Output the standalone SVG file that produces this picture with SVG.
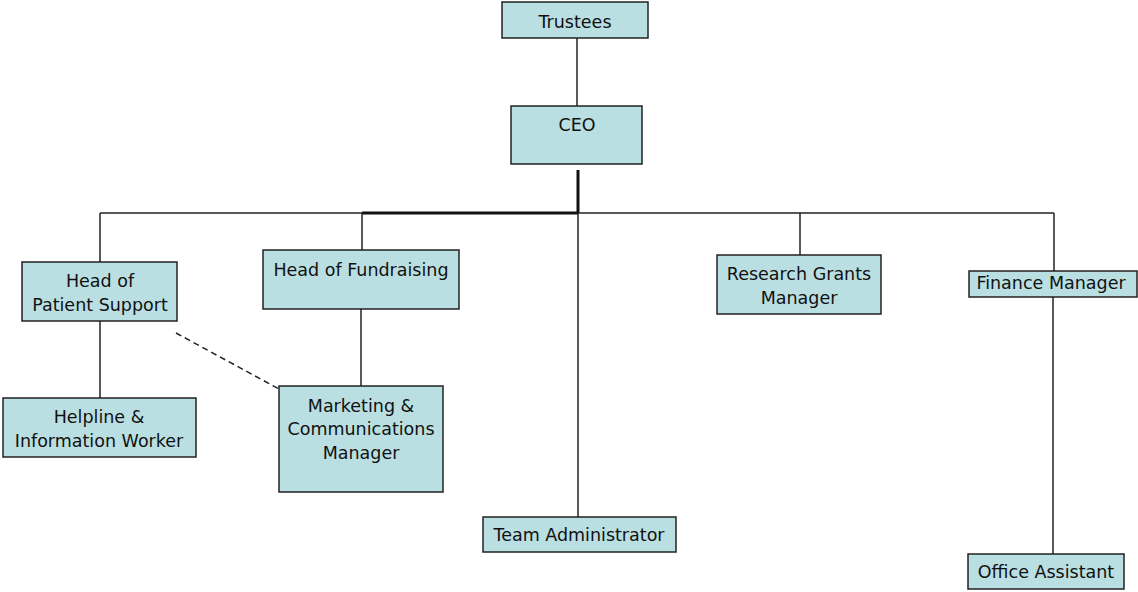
<svg xmlns="http://www.w3.org/2000/svg" width="1138" height="592" viewBox="0 0 1138 592">
<style>
.box{fill:#badfe2;stroke:#222;stroke-width:1.5}
.t{font-family:"DejaVu Sans",Verdana,sans-serif;font-size:17.5px;fill:#111;text-anchor:middle}
.c{stroke:#222;stroke-width:1.5;fill:none}
.thick{stroke:#111;stroke-width:3;fill:none}
.dash{stroke:#222;stroke-width:1.5;fill:none;stroke-dasharray:6,4}
</style>
<rect width="1138" height="592" fill="#fff"/>
<g id="connectors">
<line class="c" x1="577" y1="38" x2="577" y2="106"/>
<line class="thick" x1="578" y1="170" x2="578" y2="213"/>
<line class="c" x1="100" y1="213" x2="1054" y2="213"/>
<line class="thick" x1="362" y1="213" x2="578" y2="213"/>
<line class="c" x1="100" y1="213" x2="100" y2="262"/>
<line class="c" x1="362" y1="213" x2="362" y2="257"/>
<line class="c" x1="800" y1="213" x2="800" y2="255"/>
<line class="c" x1="1054" y1="213" x2="1054" y2="271"/>
<line class="c" x1="578" y1="213" x2="578" y2="517"/>
<line class="c" x1="100" y1="321" x2="100" y2="398"/>
<line class="c" x1="361" y1="309" x2="361" y2="386"/>
<line class="dash" x1="176" y1="333" x2="279" y2="389"/>
<line class="c" x1="1053" y1="286" x2="1053" y2="565"/>
</g>
<g id="trustees"><rect class="box" x="502" y="2" width="146" height="36"/><text class="t" x="575" y="28">Trustees</text></g>
<g id="ceo"><rect class="box" x="511" y="106" width="131" height="58"/><text class="t" x="577" y="131">CEO</text></g>
<g id="head-patient-support"><rect class="box" x="22" y="262" width="155" height="59"/><text class="t" x="100" y="287">Head of</text><text class="t" x="100" y="311">Patient Support</text></g>
<g id="head-fundraising"><rect class="box" x="263" y="250" width="196" height="59"/><text class="t" x="361" y="276">Head of Fundraising</text></g>
<g id="research-grants"><rect class="box" x="717" y="255" width="164" height="59"/><text class="t" x="799" y="280">Research Grants</text><text class="t" x="799" y="304">Manager</text></g>
<g id="finance-manager"><rect class="box" x="969" y="271" width="168" height="26"/><text class="t" x="1051" y="289">Finance Manager</text></g>
<g id="helpline"><rect class="box" x="3" y="398" width="193" height="59"/><text class="t" x="99" y="423">Helpline &amp;</text><text class="t" x="99" y="447">Information Worker</text></g>
<g id="marketing"><rect class="box" x="279" y="386" width="164" height="106"/><text class="t" x="361" y="412">Marketing &amp;</text><text class="t" x="361" y="435">Communications</text><text class="t" x="361" y="459">Manager</text></g>
<g id="team-administrator"><rect class="box" x="483" y="517" width="193" height="35"/><text class="t" x="579" y="541">Team Administrator</text></g>
<g id="office-assistant"><rect class="box" x="968" y="554" width="156" height="35"/><text class="t" x="1046" y="578">Office Assistant</text></g>
</svg>
